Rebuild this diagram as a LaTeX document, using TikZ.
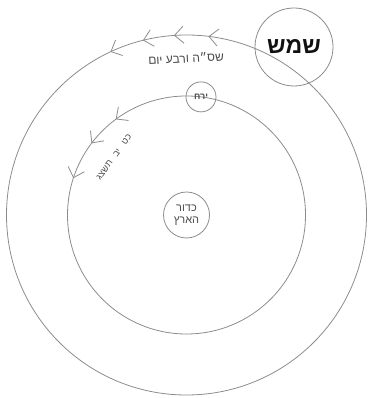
\documentclass[tikz,border=0pt]{standalone}
\usepackage{fontspec}
\setmainfont{Liberation Sans}
\newfontfamily\hebfont[Script=Hebrew]{Liberation Sans}
\TeXXeTstate=1
\usetikzlibrary{positioning,calc,arrows.meta,decorations.markings}
\definecolor{orbitgray}{HTML}{8C8C8C}
\definecolor{labelgray}{HTML}{4A4A4A}
\definecolor{inkdark}{HTML}{111111}
\tikzset{
  every node/.style={font=\hebfont, text=labelgray},
  orbit/.style={draw=orbitgray, line width=0.8pt},
  body/.style={circle, draw=orbitgray, line width=0.8pt, inner sep=0pt, align=center},
  chev/.tip={Straight Barb[length=9pt, width=17pt, line width=0.8pt, color=orbitgray]},
  lbl/.style={font=\hebfont\fontsize{12}{14}\selectfont, text=labelgray},
}

\begin{document}
\begin{tikzpicture}[x=1pt, y=1pt]
  \useasboundingbox (0,0) rectangle (369,398);

  \node[body, minimum size=46pt, font=\hebfont\fontsize{11}{12}\selectfont] (earth) at (186.5,183)
        {\beginR כדור\endR\\\beginR הארץ\endR};
  \draw[orbit] (earth.center) circle[radius=180pt];
  \draw[orbit] (earth.center) circle[radius=119pt];

  \node[body, minimum size=78pt, font=\hebfont\bfseries\fontsize{23}{25}\selectfont, text=inkdark] (sun) at (294,351)
        {\beginR שמש\endR};
  \node[body, minimum size=30pt, font=\hebfont\bfseries\fontsize{9}{10}\selectfont] (moon) at ($(earth.center)+(83:119pt)$)
        {\beginR ירח\endR};

  % direction of motion
  \path[decorate, decoration={markings,
        mark=at position .16 with {\arrow{chev}},
        mark=at position .38 with {\arrow{chev}},
        mark=at position .58 with {\arrow{chev}},
        mark=at position .80 with {\arrow{chev}}}]
    (earth.center) ++(75:180pt) arc[start angle=75, end angle=125, radius=180pt];
  \path[decorate, decoration={markings,
        mark=at position .13 with {\arrow{chev}},
        mark=at position .46 with {\arrow{chev}},
        mark=at position .84 with {\arrow{chev}}}]
    (earth.center) ++(120:119pt) arc[start angle=120, end angle=170, radius=119pt];

  \node[lbl, rotate=3] (sunlbl) at (186,340) {\beginR שס״ה ורבע יום\endR};
  \node[lbl, font=\hebfont\fontsize{9}{10}\selectfont, rotate=54] (moonlbl) at (114,241)
        {\beginR כט\hspace{7pt}יב\hspace{7pt}תשצג\endR};
\end{tikzpicture}
\end{document}
